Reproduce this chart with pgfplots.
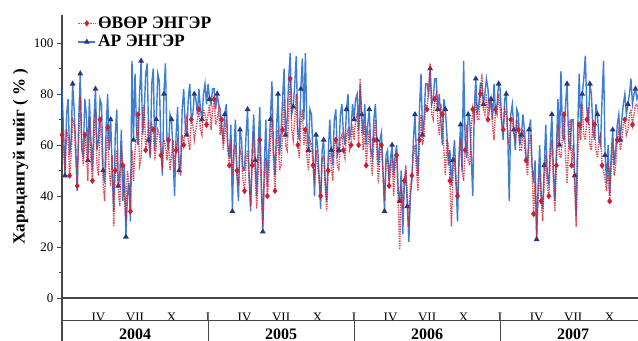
\documentclass[border=0pt]{standalone}
\usepackage{pgfplots}
\pgfplotsset{compat=1.18}
\usepackage{pgfplotstable}
\usepackage{fontspec}
\setmainfont{Liberation Serif}
\definecolor{redl}{RGB}{205,30,50}
\definecolor{bluel}{RGB}{40,112,205}
\definecolor{navy}{RGB}{40,55,125}
\definecolor{axgray}{RGB}{70,70,70}

\pgfplotstableread{
x r b
0 64 82
0.125 58 66
0.25 50 48
0.375 66 72
0.5 63 78
0.625 48 56
0.75 56 62
0.875 70 84
1 68 74
1.125 55 60
1.25 44 42
1.375 62 70
1.5 79 88
1.625 60 58
1.75 52 56
1.875 64 78
2 58 72
2.125 46 54
2.25 70 78
2.375 55 62
2.5 46 50
2.625 62 70
2.75 74 82
2.875 52 58
3 48 62
3.125 70 78
3.25 62 76
3.375 45 50
3.5 38 45
3.625 55 66
3.75 67 80
3.875 50 58
4 44 70
4.125 56 50
4.25 28 34
4.375 50 64
4.5 58 74
4.625 42 44
4.75 36 48
4.875 60 66
5 52 38
5.125 40 52
5.25 30 24
5.375 50 40
5.5 45 45
5.625 34 30
5.75 58 93
5.875 46 62
6 58 88
6.125 64 66
6.25 72 60
6.375 52 80
6.5 55 93
6.625 70 64
6.75 76 72
6.875 58 88
7 62 92
7.125 70 62
7.25 56 55
7.375 68 84
7.5 66 90
7.625 54 58
7.75 60 70
7.875 66 88
8 64 85
8.125 56 60
8.25 52 48
8.375 62 80
8.5 60 92
8.625 54 62
8.75 62 58
8.875 50 72
9 56 70
9.125 62 56
9.25 50 40
9.375 58 64
9.5 62 75
9.625 52 50
9.75 48 52
9.875 64 74
10 60 82
10.125 66 68
10.25 72 64
10.375 62 78
10.5 58 84
10.625 70 70
10.75 68 72
10.875 62 80
11 66 78
11.125 70 72
11.25 74 82
11.375 66 74
11.5 64 70
11.625 74 80
11.75 72 84
11.875 68 76
12 72 84
12.125 76 78
12.25 66 76
12.375 74 82
12.5 78 82
12.625 68 74
12.75 70 80
12.875 74 76
13 64 74
13.125 70 66
13.25 58 62
13.375 64 72
13.5 70 76
13.625 58 60
13.75 52 55
13.875 62 68
14 48 34
14.125 56 58
14.25 60 70
14.375 50 48
14.5 44 38
14.625 58 66
14.75 56 62
14.875 46 50
15 42 50
15.125 54 64
15.25 58 74
15.375 46 48
15.5 36 34
15.625 52 58
15.75 65 72
15.875 48 54
16 35 40
16.125 50 60
16.25 62 75
16.375 44 46
16.5 28 26
16.625 46 52
16.75 55 70
16.875 40 44
17 48 58
17.125 60 70
17.25 72 85
17.375 54 58
17.5 42 48
17.625 58 66
17.75 66 80
17.875 50 56
18 52 65
18.125 66 78
18.25 78 90
18.375 60 64
18.5 58 70
18.625 72 86
18.75 86 96
18.875 66 72
19 62 75
19.125 70 84
19.25 80 95
19.375 60 66
19.5 55 62
19.625 68 82
19.75 74 94
19.875 60 70
20 66 96
20.125 56 66
20.25 50 58
20.375 62 74
20.5 60 72
20.625 52 56
20.75 45 40
20.875 58 64
21 52 60
21.125 46 48
21.25 40 35
21.375 54 58
21.5 56 62
21.625 44 46
21.75 34 38
21.875 50 56
22 58 70
22.125 52 58
22.25 46 52
22.375 60 70
22.5 62 74
22.625 52 56
22.75 50 58
22.875 62 72
23 64 76
23.125 58 64
23.25 55 60
23.375 64 74
23.5 66 80
23.625 58 62
23.75 60 66
23.875 68 76
24 62 70
24.125 70 78
24.25 72 80
24.375 60 66
24.5 86 84
24.625 66 72
24.75 58 64
24.875 68 76
25 52 60
25.125 60 68
25.25 66 74
25.375 54 58
25.5 48 55
25.625 62 70
25.75 70 76
25.875 56 62
26 45 52
26.125 56 62
26.25 60 65
26.375 48 50
26.5 38 34
26.625 52 56
26.75 55 58
26.875 44 46
27 50 55
27.125 56 60
27.25 40 48
27.375 52 56
27.5 56 60
27.625 38 42
27.75 19 38
27.875 44 50
28 35 25
28.125 46 44
28.25 52 50
28.375 40 36
28.5 28 22
28.625 44 40
28.75 48 46
28.875 56 62
29 60 72
29.125 50 56
29.25 42 48
29.375 62 74
29.5 72 88
29.625 60 64
29.75 64 70
29.875 76 84
30 74 84
30.125 82 80
30.25 92 90
30.375 72 76
30.5 70 78
30.625 78 86
30.75 80 86
30.875 70 74
31 64 80
31.125 76 70
31.25 72 60
31.375 58 78
31.5 48 74
31.625 62 64
31.75 60 52
31.875 46 58
32 28 44
32.125 48 54
32.25 55 62
32.375 44 46
32.5 40 30
32.625 54 56
32.75 62 68
32.875 50 50
33 46 93
33.125 58 62
33.25 68 55
33.375 54 72
33.5 52 70
33.625 66 56
33.75 74 40
33.875 70 74
34 78 86
34.125 70 72
34.25 70 76
34.375 80 84
34.5 88 84
34.625 74 76
34.75 72 80
34.875 80 86
35 70 82
35.125 78 74
35.25 76 78
35.375 68 70
35.5 62 84
35.625 74 72
35.75 72 76
35.875 80 84
36 74 82
36.125 68 70
36.25 66 62
36.375 74 78
36.5 72 80
36.625 64 64
36.75 60 38
36.875 70 72
37 70 76
37.125 64 66
37.25 62 58
37.375 70 74
37.5 66 72
37.625 58 60
37.75 58 64
37.875 66 72
38 60 66
38.125 54 56
38.25 48 52
38.375 60 66
38.5 64 70
38.625 50 52
38.75 33 45
38.875 46 54
39 24 23
39.125 40 44
39.25 50 60
39.375 38 40
39.5 30 35
39.625 46 52
39.75 56 68
39.875 44 48
40 40 45
40.125 54 60
40.25 62 72
40.375 46 50
40.5 34 38
40.625 52 58
40.75 68 78
40.875 56 60
41 55 89
41.125 64 64
41.25 72 62
41.375 56 76
41.5 45 84
41.625 60 62
41.75 70 58
41.875 52 70
42 60 70
42.125 44 48
42.25 28 32
42.375 54 66
42.5 68 88
42.625 62 66
42.75 76 80
42.875 64 86
43 62 95
43.125 70 74
43.25 75 68
43.375 60 84
43.5 58 80
43.625 70 66
43.75 68 62
43.875 58 76
44 55 72
44.125 62 62
44.25 64 60
44.375 52 78
44.5 50 93
44.625 46 56
44.75 42 45
44.875 54 60
45 38 40
45.125 50 56
45.25 60 66
45.375 48 52
45.5 52 58
45.625 62 68
45.75 66 72
45.875 58 62
46 62 70
46.125 68 76
46.25 70 80
46.375 64 72
46.5 66 76
46.625 72 80
46.75 74 86
46.875 68 76
47 72 80
47.125 76 82
47.25 76 78
47.375 72 80
47.5 74 82
}\humid

\begin{document}
\begin{tikzpicture}
\begin{axis}[
  scale only axis, width=576pt, height=283pt,
  xmin=0, xmax=47.33, ymin=0, ymax=111,
  axis x line=bottom, axis y line=left,
  axis line style={-, axgray, line width=1.1pt},
  ytick={0,20,...,100}, minor y tick num=1, tick align=outside,
  major tick length=5pt, minor tick length=3pt,
  every tick/.style={axgray, line width=0.8pt},
  xtick={3,6,9,12,15,18,21,24,27,30,33,36,39,42,45},
  xticklabels={IV,VII,X,I,IV,VII,X,I,IV,VII,X,I,IV,VII,X},
  x tick style={draw=none},
  xticklabel style={font=\fontsize{13}{13}\selectfont, anchor=base, yshift=-18.5pt},
  yticklabel style={font=\fontsize{13}{13}\selectfont},
  /pgf/number format/assume math mode=true,
  ylabel={Харьцангуй чийг ( \% )},
  ylabel style={at={(axis description cs:-0.072,0.5)}, anchor=center, font=\bfseries\fontsize{17}{17}\selectfont},
  clip mode=individual,
  legend style={at={(rel axis cs:0.025,1.005)}, anchor=north west, draw=none, fill=none,
    font=\bfseries\fontsize{17.5}{17.5}\selectfont, inner sep=1pt, row sep=1.5pt},
  legend cell align=left, reverse legend,
]
\addplot[bluel, line width=1.4pt, opacity=0.9, mark=triangle*, mark size=2pt,
  mark options={navy, fill=navy, opacity=1}, mark repeat=5, mark phase=3] table[x=x,y=b]{\humid};
\addlegendentry{АР ЭНГЭР}
\addplot[redl, line width=1.4pt, densely dotted, opacity=0.8, mark=diamond*, mark size=2.1pt,
  mark options={solid, fill=redl, opacity=1}, mark repeat=5] table[x=x,y=r]{\humid};
\addlegendentry{ӨВӨР ЭНГЭР}
\coordinate (O) at (axis cs:0,0);
\coordinate (E) at (axis cs:47.33,0);
\coordinate (TR) at (axis cs:47.33,111);
\coordinate (Y1) at (axis cs:12,0);
\coordinate (Y2) at (axis cs:24,0);
\coordinate (Y3) at (axis cs:36,0);
\coordinate (C1) at (axis cs:6,0);
\coordinate (C2) at (axis cs:18,0);
\coordinate (C3) at (axis cs:30,0);
\coordinate (C4) at (axis cs:42,0);
\end{axis}
\draw[axgray, line width=1.1pt] (O) -- ++(0,-43pt);
\draw[axgray, line width=1.1pt] ([yshift=-22.3pt]O) -- ([yshift=-22.3pt]E);
\foreach \c in {Y1,Y2,Y3} \draw[axgray, line width=0.9pt] ([yshift=-22.3pt]\c) -- ++(0,-21pt);
\foreach \c/\t in {C1/2004,C2/2005,C3/2006,C4/2007}
  \node[font=\bfseries\fontsize{16}{16}\selectfont, anchor=base] at ([yshift=-41pt]\c) {\t};
\pgfresetboundingbox
\path[use as bounding box] ([xshift=-62pt,yshift=-42.3pt]O) rectangle ([yshift=15pt]TR);
\end{tikzpicture}
\end{document}
